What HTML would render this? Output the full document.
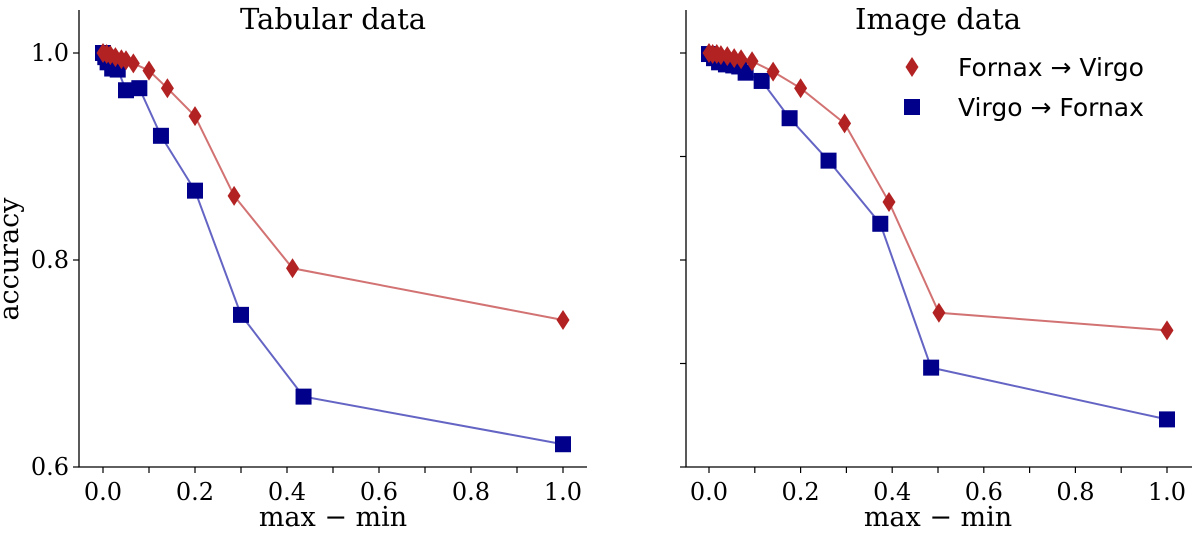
<!DOCTYPE html>
<html><head><meta charset="utf-8"><style>
body{margin:0;background:#fff}
svg text{font-family:"DejaVu Serif","Liberation Serif",serif;fill:#000}
</style></head><body>
<svg width="1200" height="531" viewBox="0 0 1200 531">
<g id="root"></g>
</svg>
<script>
const tabRedX=[0,0.008,0.016,0.027,0.04,0.05,0.066,0.1,0.14,0.2,0.285,0.412,1.0];
const tabRedY=[1.0,0.999,0.998,0.996,0.994,0.993,0.99,0.983,0.966,0.939,0.862,0.792,0.742];
const tabBlueX=[0,0.005,0.01,0.02,0.032,0.05,0.079,0.126,0.2,0.3,0.436,1.0];
const tabBlueY=[1.0,0.996,0.991,0.985,0.984,0.964,0.966,0.92,0.867,0.747,0.668,0.622];
const imgRedX=[0,0.008,0.017,0.026,0.04,0.055,0.07,0.094,0.14,0.2,0.296,0.393,0.502,1.0];
const imgRedY=[1.0,0.999,0.999,0.998,0.997,0.995,0.994,0.992,0.982,0.966,0.932,0.856,0.749,0.732];
const imgBlueX=[0,0.011,0.022,0.037,0.053,0.066,0.08,0.115,0.176,0.261,0.374,0.485,1.0];
const imgBlueY=[0.999,0.995,0.991,0.989,0.988,0.987,0.981,0.973,0.937,0.896,0.835,0.696,0.646];
const xTicks=[0,0.1,0.2,0.3,0.4,0.5,0.6,0.7,0.8,0.9,1.0];
const xLabels=["0.0","0.2","0.4","0.6","0.8","1.0"];
const yLabels=["0.6","0.8","1.0"];
const NS="http://www.w3.org/2000/svg";
const root=document.getElementById('root');
function mk(t,a,p){const e=document.createElementNS(NS,t);for(const k in a)e.setAttribute(k,a[k]);(p||root).appendChild(e);return e;}
function panel(name,spineX,x0,x1,title,rx,ry,bx,by,yTicks,showYLab){
  const g=mk('g',{});
  
  
  const sx=v=>x0+v*(x1-x0), sy=v=>467-(v-0.6)/0.4*414;
  const right=spineX+(x1-x0)+48;
  const sp=mk('path',{d:`M${spineX},10V467H${right}`,stroke:'#000','stroke-width':1.3,fill:'none'},g);
  
  xTicks.forEach((t,i)=>{mk('line',{x1:sx(t),x2:sx(t),y1:467,y2:473,stroke:'#000','stroke-width':1.2},g);});
  xLabels.forEach(l=>{const t=mk('text',{x:sx(+l),y:500,'font-size':24,'text-anchor':'middle'},g);t.textContent=l;
    });
  yTicks.forEach(v=>mk('line',{x1:spineX-6,x2:spineX,y1:sy(v),y2:sy(v),stroke:'#000','stroke-width':1.2},g));
  if(showYLab)yLabels.forEach(l=>{const t=mk('text',{x:spineX-10,y:sy(+l)+8,'font-size':24,'text-anchor':'end'},g);t.textContent=l;
    });
  const tt=mk('text',{x:(x0+x1)/2,y:29,'font-size':29,'text-anchor':'middle'},g);tt.textContent=title;
  
  const xl=mk('text',{x:(x0+x1)/2,y:526,'font-size':27,'text-anchor':'middle'},g);xl.textContent='max − min';
  
  const bl=mk('polyline',{points:bx.map((v,i)=>sx(v)+','+sy(by[i])).join(' '),fill:'none',stroke:'#6464c4','stroke-width':2},g);
  
  const rl=mk('polyline',{points:rx.map((v,i)=>sx(v)+','+sy(ry[i])).join(' '),fill:'none',stroke:'#d27272','stroke-width':2},g);
  
  bx.forEach((v,i)=>{const r=mk('rect',{x:sx(v)-8,y:sy(by[i])-8,width:16,height:16,fill:'#00008b'},g);
    });
  rx.forEach((v,i)=>{const x=sx(v),y=sy(ry[i]);const p=mk('polygon',{points:`${x},${y-10} ${x+6.5},${y} ${x},${y+10} ${x-6.5},${y}`,fill:'#b22222'},g);
    });
}
panel('tabular-panel',79,103,563,'Tabular data',tabRedX,tabRedY,tabBlueX,tabBlueY,[0.6,0.8,1.0],true);
panel('image-panel',686,709,1167,'Image data',imgRedX,imgRedY,imgBlueX,imgBlueY,[0.6,0.7,0.8,0.9,1.0],false);
const yl=mk('text',{x:0,y:0,'font-size':27,'text-anchor':'middle',transform:'translate(18,259) rotate(-90)'});yl.textContent='accuracy';

const lg=mk('g',{});


mk('polygon',{points:'912,57 918.5,67 912,77 905.5,67',fill:'#b22222'},lg);
const t1=mk('text',{x:958,y:76,'font-size':25,style:'font-family:"DejaVu Sans",sans-serif'},lg);t1.textContent='Fornax → Virgo';

mk('rect',{x:904,y:99,width:16,height:16,fill:'#00008b'},lg);
const t2=mk('text',{x:958,y:116,'font-size':25,style:'font-family:"DejaVu Sans",sans-serif'},lg);t2.textContent='Virgo → Fornax';

</script>
</body></html>
